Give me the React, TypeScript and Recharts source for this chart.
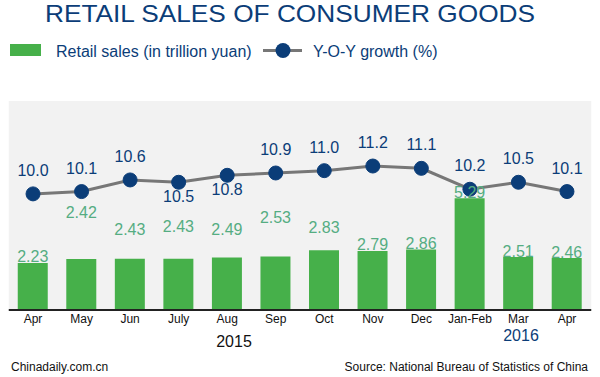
import React from 'react';
import { ComposedChart, Bar, Line, XAxis, YAxis, CartesianGrid, LabelList } from 'recharts';

const months = ['Apr', 'May', 'Jun', 'July', 'Aug', 'Sep', 'Oct', 'Nov', 'Dec', 'Jan-Feb', 'Mar', 'Apr'];
const retailSales = [2.23, 2.42, 2.43, 2.43, 2.49, 2.53, 2.83, 2.79, 2.86, 5.29, 2.51, 2.46];
const yoyGrowth = [10.0, 10.1, 10.6, 10.5, 10.8, 10.9, 11.0, 11.2, 11.1, 10.2, 10.5, 10.1];
const yearLabels = ['2015', '2016'];

// label layout tweaks (pixels above bar top) and which growth labels sit below the dot
const barLabelRaise = [1, 41, 24, 27, 22, 34, 17, 1, 1, 0, 0, 0];
const growthLabelBelow = [false, false, false, true, true, false, false, false, false, false, false, false];

const data = months.map((m, i) => ({ month: m, sales: retailSales[i], growth: yoyGrowth[i] }));

const NAVY = '#0b3d78';
const GREEN = '#46b04a';
const LABEL_GREEN = '#55ad82';
const FONT = 'Liberation Sans, Arial, Helvetica, sans-serif';

const BarLabel = (props: any) => {
  const { x, y, width, value, index } = props;
  return (
    <text x={x + width / 2} y={y - barLabelRaise[index]} textAnchor="middle" fill={LABEL_GREEN} fontSize={16} fontFamily={FONT}>
      {Number(value).toFixed(2)}
    </text>
  );
};

const GrowthLabel = (props: any) => {
  const { x, y, value, index } = props;
  const below = growthLabelBelow[index];
  return (
    <text x={x} y={below ? y + 20 : y - 18} textAnchor="middle" fill={NAVY} fontSize={16} fontFamily={FONT}>
      {Number(value).toFixed(1)}
    </text>
  );
};

const Tick = (props: any) => {
  const { x, y, payload } = props;
  return (
    <text x={x} y={y + 13} textAnchor="middle" fill="#111" fontSize={12} fontFamily={FONT}>
      {payload.value}
    </text>
  );
};

export default function App() {
  return (
    <div style={{ position: 'absolute', left: 0, top: 0, width: 600, height: 377, background: '#fff', fontFamily: FONT }}>
      <ComposedChart
        width={600}
        height={377}
        data={data}
        margin={{ top: 101, right: 8.75, bottom: 37, left: 8.75 }}
      >
        <CartesianGrid horizontal={false} vertical={false} fill="#f2f2f2" />
        <XAxis
          dataKey="month"
          xAxisId={0}
          height={30}
          tickLine={false}
          tickSize={0}
          tickMargin={0}
          axisLine={{ stroke: '#222', strokeWidth: 2 }}
          tick={<Tick />}
          interval={0}
        />
        <YAxis yAxisId="sales" hide domain={[0, 9.9]} />
        <YAxis yAxisId="growth" hide orientation="right" domain={[5, 14]} />
        <Bar yAxisId="sales" dataKey="sales" fill={GREEN} barSize={30} isAnimationActive={false}>
          <LabelList dataKey="sales" content={<BarLabel />} />
        </Bar>
        <Line
          yAxisId="growth"
          dataKey="growth"
          stroke="#777"
          strokeWidth={3}
          dot={{ r: 7, fill: NAVY, stroke: NAVY, strokeWidth: 1 }}
          isAnimationActive={false}
        >
          <LabelList dataKey="growth" content={<GrowthLabel />} />
        </Line>
      </ComposedChart>
      <svg width={600} height={377} style={{ position: 'absolute', left: 0, top: 0, pointerEvents: 'none' }}>
        <text x={290} y={22} textAnchor="middle" fill={NAVY} fontSize={24} fontFamily={FONT} textLength={490} lengthAdjust="spacingAndGlyphs">
          RETAIL SALES OF CONSUMER GOODS
        </text>
        <rect x={10} y={44} width={31} height={12} fill={GREEN} />
        <text x={56} y={57} fill={NAVY} fontSize={16} fontFamily={FONT}>Retail sales (in trillion yuan)</text>
        <line x1={263} y1={50.5} x2={302} y2={50.5} stroke="#777" strokeWidth={3} />
        <circle cx={283} cy={50.5} r={7.5} fill={NAVY} />
        <text x={313} y={57} fill={NAVY} fontSize={16} fontFamily={FONT}>Y-O-Y growth (%)</text>
        <text x={234} y={347} textAnchor="middle" fill="#111" fontSize={16} fontFamily={FONT}>{yearLabels[0]}</text>
        <text x={521} y={341} textAnchor="middle" fill={NAVY} fontSize={16} fontFamily={FONT}>{yearLabels[1]}</text>
        <text x={11} y={371} fill="#111" fontSize={12} fontFamily={FONT}>Chinadaily.com.cn</text>
        <text x={588} y={371} textAnchor="end" fill="#111" fontSize={12} fontFamily={FONT}>Source: National Bureau of Statistics of China</text>
      </svg>
    </div>
  );
}
